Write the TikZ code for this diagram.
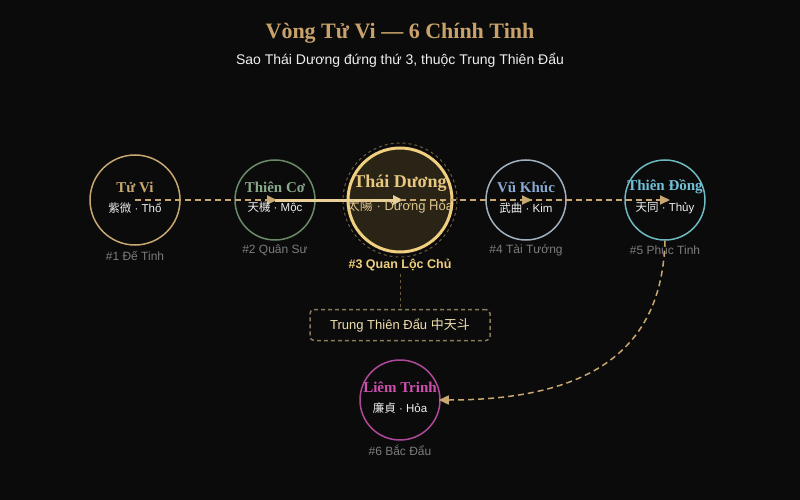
\documentclass[tikz,border=0pt]{standalone}
\usepackage{fontspec}
\setmainfont{Liberation Serif}
\setsansfont{Liberation Sans}
\newfontfamily\cjk{Noto Sans CJK TC}
\usetikzlibrary{arrows.meta}
\definecolor{bg}{HTML}{0B0B0B}
\definecolor{titlec}{HTML}{C8A26A}
\definecolor{subc}{HTML}{F0F0F0}
\definecolor{tvc}{HTML}{C8A870}
\definecolor{tcc}{HTML}{6A8A6A}
\definecolor{tctext}{HTML}{8AA88A}
\definecolor{tyc}{HTML}{F0D080}
\definecolor{tyfill}{HTML}{2A2416}
\definecolor{tytext}{HTML}{E8C880}
\definecolor{tysub}{HTML}{DCC48C}
\definecolor{vkc}{HTML}{A0B0C0}
\definecolor{vktext}{HTML}{8AA8D0}
\definecolor{tdc}{HTML}{70B8C0}
\definecolor{tdtext}{HTML}{70C0D8}
\definecolor{ltc}{HTML}{B04898}
\definecolor{lttext}{HTML}{D050B0}
\definecolor{graylab}{HTML}{7C7C7C}
\definecolor{dashc}{HTML}{C8A870}
\definecolor{solidc}{HTML}{E8D098}
\definecolor{boxc}{HTML}{8A7A5A}
\definecolor{boxtext}{HTML}{F0E0B0}
\definecolor{ringc}{HTML}{6A5A40}
\begin{document}
\begin{tikzpicture}[x=1pt,y=-1pt,
  starcirc/.style={circle,inner sep=0pt,line width=1.5pt},
  startitle/.style={font=\fontsize{15}{17}\selectfont\rmfamily\bfseries},
  starsub/.style={font=\fontsize{11.5}{13}\selectfont\sffamily,text=subc},
  starlab/.style={font=\fontsize{12}{14}\selectfont\sffamily,text=graylab},
  dashconn/.style={draw=dashc,line width=2pt,dash pattern=on 6pt off 4pt,-{Triangle[length=10pt,width=9pt]}},
  solidconn/.style={draw=solidc,line width=3pt,-{Triangle[length=10pt,width=9pt]}},
  curveconn/.style={draw=dashc,line width=1.5pt,dash pattern=on 6pt off 4pt,-{Triangle[length=10pt,width=9pt]}},
  dotconn/.style={draw=ringc,line width=1pt,dash pattern=on 3pt off 3pt},
]
\fill[bg] (0,0) rectangle (800,500);
\useasboundingbox (0,0) rectangle (800,500);

% titles
\node[font=\fontsize{22}{26}\selectfont\rmfamily\bfseries,text=titlec] (title) at (400,33) {Vòng Tử Vi — 6 Chính Tinh};
\node[font=\fontsize{14}{16}\selectfont\sffamily,text=subc] (subtitle) at (400,60) {Sao Thái Dương đứng thứ 3, thuộc Trung Thiên Đẩu};

% circles
\node[starcirc,draw=tvc,minimum size=90pt] (tv) at (135,200) {};
\node[starcirc,draw=tcc,minimum size=80pt] (tc) at (275,200) {};
\draw[ringc,line width=1pt,dash pattern=on 3pt off 3pt] (400,200) circle[radius=57pt];
\node[starcirc,draw=tyc,fill=tyfill,line width=3pt,minimum size=104pt] (ty) at (400,200) {};
\node[starcirc,draw=vkc,minimum size=80pt] (vk) at (526,200) {};
\node[starcirc,draw=tdc,minimum size=80pt] (td) at (665,200) {};
\node[starcirc,draw=ltc,minimum size=80pt] (lt) at (400,400) {};

% box and labels
\node[starlab] (tvlab) at (135,256) {\#1 Đế Tinh};
\node[starlab] (tclab) at (275,250) {\#2 Quân Sư};
\node[font=\fontsize{12.5}{15}\selectfont\sffamily\bfseries,text=tyc] (tylab) at (400,265) {\#3 Quan Lộc Chủ};
\node[starlab] (vklab) at (526,250) {\#4 Tài Tướng};
\node[starlab] (tdlab) at (665,250) {\#5 Phúc Tinh};
\node[starlab] (ltlab) at (400,450) {\#6 Bắc Đẩu};
\node[draw=boxc,line width=1.5pt,dash pattern=on 4pt off 3pt,rounded corners=4pt,
  minimum width=180pt,minimum height=31pt,text=boxtext,font=\fontsize{13}{15}\selectfont\sffamily] (box) at (400,325) {Trung Thiên Đẩu {\cjk 中天斗}};

% connectors
\draw[dashconn] (tv.center) -- ([xshift=2pt]tc.center);
\draw[solidconn] (tc.center) -- ([xshift=3pt]ty.center);
\draw[dashconn] (ty.center) -- ([xshift=6pt]vk.center);
\draw[dashconn] (vk.center) -- ([xshift=5pt]td.center);
\draw[curveconn] (td.south) .. controls (662,350) and (590,400) .. ([xshift=-2pt]lt.east);
\draw[dotconn] (tylab.south) -- (box.north);

% star texts
\node[startitle,text=tvc] (tvname) at (135,187) {Tử Vi};
\node[starsub] (tvsub) at (135,208) {{\cjk 紫微} · Thổ};
\node[startitle,text=tctext] (tcname) at (275,187) {Thiên Cơ};
\node[starsub] (tcsub) at (275,208) {{\cjk 天機} · Mộc};
\node[font=\fontsize{18}{20}\selectfont\rmfamily\bfseries,text=tytext] (tyname) at (400,183) {Thái Dương};
\node[font=\fontsize{13}{15}\selectfont\sffamily,text=tysub] (tysubt) at (400,206) {{\cjk 太陽} · Dương Hỏa};
\node[startitle,text=vktext] (vkname) at (526,187) {Vũ Khúc};
\node[starsub] (vksub) at (526,208) {{\cjk 武曲} · Kim};
\node[startitle,text=tdtext] (tdname) at (665,187) {Thiên Đồng};
\node[starsub] (tdsub) at (665,208) {{\cjk 天同} · Thủy};
\node[startitle,text=lttext] (ltname) at (400,387) {Liêm Trinh};
\node[starsub] (ltsub) at (400,408) {{\cjk 廉貞} · Hỏa};
\end{tikzpicture}
\end{document}
